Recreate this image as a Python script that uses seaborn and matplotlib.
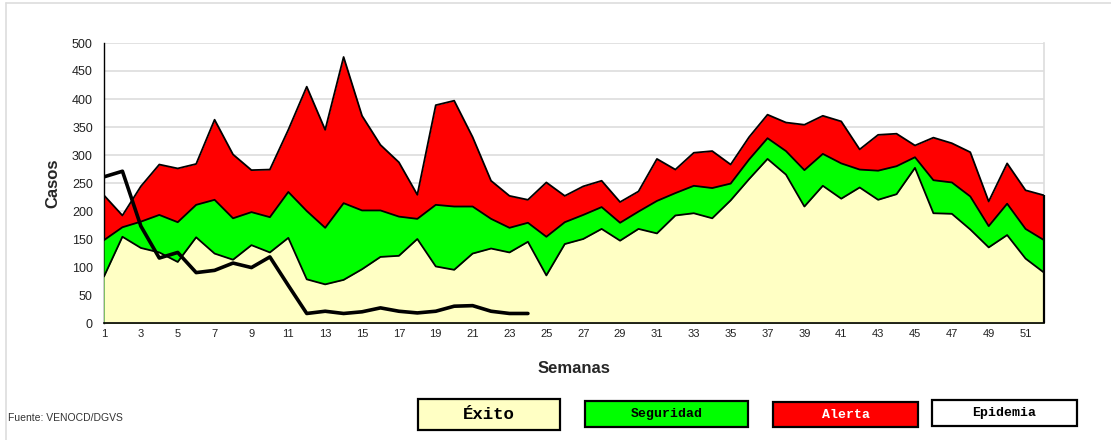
import numpy as np
import pandas as pd
import matplotlib
matplotlib.use("Agg")
import matplotlib.pyplot as plt
import seaborn as sns
from matplotlib.patches import Rectangle
from matplotlib.lines import Line2D

# ---------------- data ----------------
weeks = list(range(1, 53))
exito = [83, 154, 134, 126, 109, 153, 124, 113, 139, 126, 152, 78, 69, 77, 96, 118, 120, 150,
         101, 95, 124, 133, 126, 145, 85, 141, 150, 168, 147, 168, 160, 192, 196, 187, 219, 257,
         293, 265, 208, 245, 222, 242, 220, 230, 277, 196, 195, 167, 135, 157, 115, 90]
seguridad = [148, 171, 181, 193, 180, 211, 220, 187, 198, 189, 234, 200, 170, 214, 201, 201, 190, 186,
             211, 208, 208, 186, 170, 179, 154, 180, 193, 207, 179, 199, 218, 232, 245, 241, 249, 292,
             330, 307, 273, 302, 285, 274, 272, 280, 296, 255, 251, 226, 173, 213, 168, 148]
alerta = [228, 192, 244, 283, 276, 284, 363, 301, 273, 274, 345, 422, 345, 475, 370, 318, 287, 229,
          389, 397, 332, 254, 227, 220, 251, 227, 244, 254, 216, 235, 293, 274, 304, 307, 283, 332,
          372, 358, 354, 370, 360, 310, 336, 338, 317, 331, 321, 305, 217, 285, 237, 228]
epi_weeks = list(range(1, 25))
epidemia = [261, 271, 173, 116, 126, 90, 94, 107, 99, 118, 67, 17, 21, 17, 20, 27, 21, 18,
            21, 30, 31, 21, 17, 17]

y_ticks = list(range(0, 501, 50))
legend_labels = ["Éxito", "Seguridad", "Alerta", "Epidemia"]
source_text = "Fuente: VENOCD/DGVS"

df = pd.DataFrame({"Semana": weeks, "Exito": exito, "Seguridad": seguridad, "Alerta": alerta})
df_epi = pd.DataFrame({"Semana": epi_weeks, "Epidemia": epidemia})

# ---------------- style ----------------
sns.set_theme(style="white")
plt.rcParams["font.family"] = ["Liberation Sans", "DejaVu Sans"]

W, H = 1111, 440
fig = plt.figure(figsize=(W / 100, H / 100), dpi=100)
ax = fig.add_axes([104 / W, 1 - 323 / H, (1044 - 104) / W, (323 - 43) / H])

YELLOW = "#FFFFC4"
GREEN = "#00FF00"
RED = "#FF0000"

# areas (drawn back to front)
ax.fill_between(df["Semana"], 0, df["Alerta"], color=RED, lw=0, zorder=2)
ax.fill_between(df["Semana"], 0, df["Seguridad"], color=GREEN, lw=0, zorder=3)
ax.fill_between(df["Semana"], 0, df["Exito"], color=YELLOW, lw=0, zorder=4)
for col in ["Alerta", "Seguridad", "Exito"]:
    sns.lineplot(data=df, x="Semana", y=col, ax=ax, color="black", lw=1.3, zorder=5,
                 legend=False)
# right-hand closing edge of the stacked areas
ax.vlines(weeks[-1], 0, alerta[-1], color="black", lw=1.6, zorder=8, clip_on=False)
sns.lineplot(data=df_epi, x="Semana", y="Epidemia", ax=ax, color="black", lw=2.6, zorder=6,
             legend=False)

ax.set_xlim(1, 52)
ax.set_ylim(0, 500)
ax.set_yticks(y_ticks)
ax.set_yticklabels([str(v) for v in y_ticks], fontsize=9, color="#222222")
ax.set_xticks(weeks)
ax.set_xticklabels([str(w) if w % 2 == 1 else "" for w in weeks], fontsize=8,
                   color="#222222")
ax.tick_params(axis="x", direction="inout", length=6, width=0.9, color="black", pad=1)
ax.tick_params(axis="y", direction="out", length=3, width=0.9, color="black", pad=5)

ax.grid(axis="y", color="#dddddd", lw=1.2, zorder=0)
ax.set_axisbelow(True)
ax.spines["top"].set_visible(False)
ax.spines["right"].set_color("#dddddd")
ax.spines["right"].set_linewidth(1.2)
ax.spines["right"].set_zorder(1)
ax.spines["left"].set_color("black")
ax.spines["left"].set_linewidth(1.0)
ax.spines["bottom"].set_color("black")
ax.spines["bottom"].set_linewidth(1.2)
ax.spines["bottom"].set_zorder(7)

ax.set_xlabel("Semanas", fontsize=12, fontweight="bold", labelpad=16)
ax.set_ylabel("Casos", fontsize=12, fontweight="bold", labelpad=8)

# figure border lines (light gray)
fig.add_artist(Line2D([6 / W, 1], [1 - 3 / H, 1 - 3 / H], color="#dddddd", lw=1.2,
                      transform=fig.transFigure))
fig.add_artist(Line2D([6 / W, 6 / W], [0, 1 - 3 / H], color="#dddddd", lw=1.2,
                      transform=fig.transFigure))

# source
fig.text(8 / W, 1 - 418 / H, source_text, fontsize=7.5, color="#333333", va="center",
         ha="left", fontstretch="condensed")

# legend boxes
boxes = [
    (418, 399, 560, 430, YELLOW, "black", 12.5),
    (585, 401, 748, 427, GREEN, "black", 9.5),
    (773, 402, 918, 427, RED, "white", 9.5),
    (932, 400, 1077, 426, "white", "black", 9.5),
]
for (x0, y0, x1, y1, fc, tc, fs), lab in zip(boxes, legend_labels):
    rect = Rectangle((x0 / W, 1 - y1 / H), (x1 - x0) / W, (y1 - y0) / H,
                     transform=fig.transFigure, facecolor=fc, edgecolor="black", lw=1.6)
    fig.add_artist(rect)
    fig.text((x0 + x1) / 2 / W, 1 - (y0 + y1) / 2 / H, lab, ha="center", va="center",
             fontsize=fs, fontweight="bold", color=tc,
             family=["Liberation Mono", "DejaVu Sans Mono"])

fig.savefig("out.png", dpi=100)
